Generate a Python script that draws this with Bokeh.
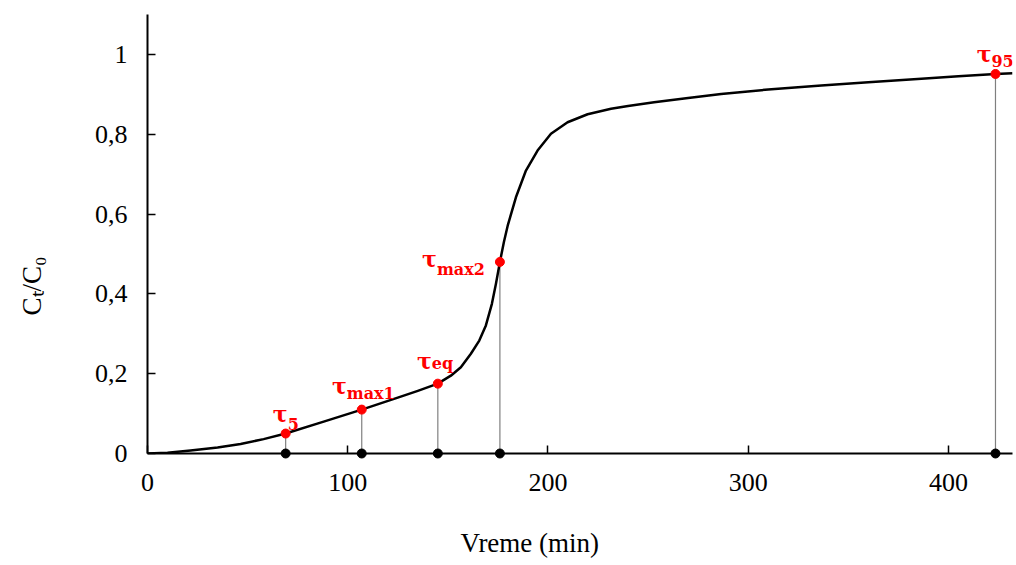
from bokeh.plotting import figure
from bokeh.models import Range1d, FixedTicker, Title, ColumnDataSource
from bokeh.core.properties import value
from bokeh.embed import file_html
from bokeh.resources import INLINE

# ---- data ----
curve_t = [0, 10, 21.5, 35, 46.5, 58, 69, 88, 107, 125, 135, 145, 151.5, 156.5, 161.5,
           165.7, 169, 172, 174, 176, 178, 180, 184, 189, 194.8, 201.5, 209.8, 219.8,
           231.5, 240, 253, 270, 286.5, 310, 336.5, 360, 386.5, 405, 423.5, 432]
curve_c = [0, 0.002, 0.0075, 0.015, 0.024, 0.036, 0.05, 0.08, 0.11, 0.14, 0.157, 0.175,
           0.195, 0.216, 0.250, 0.283, 0.321, 0.375, 0.425, 0.48, 0.53, 0.573, 0.642,
           0.709, 0.759, 0.801, 0.830, 0.850, 0.864, 0.871, 0.880, 0.891, 0.901, 0.912,
           0.922, 0.930, 0.939, 0.945, 0.951, 0.953]

tau_sub = ["5", "max1", "eq", "max2", "95"]
tau_t = [69, 107, 145, 176, 423.5]
tau_c = [0.05, 0.11, 0.175, 0.48, 0.951]

x_ticks = [0, 100, 200, 300, 400]
y_ticks = [0, 0.2, 0.4, 0.6, 0.8, 1.0]
y_tick_labels = ["0", "0,2", "0,4", "0,6", "0,8", "1"]

x_label = "Vreme (min)"
y_label = "Cₜ/C₀"

# ---- presentation (label placement in screen px) ----
tau_dx = [2, -15, -6, -63, -4]
tau_dy = [-20, -24, -23, -3, -20]
sub_dy = [-10, -16, -20, 8, -13]

FONT = "Liberation Serif"

p = figure(width=1016, height=565, output_backend="svg", toolbar_location=None,
           x_range=Range1d(0, 432), y_range=Range1d(0, 1.1),
           min_border_left=147, min_border_right=4, min_border_top=14, min_border_bottom=112)
p.outline_line_color = None
p.grid.visible = False
p.background_fill_color = "white"
p.border_fill_color = "white"

for ax in (p.xaxis[0], p.yaxis[0]):
    ax.axis_line_width = 2
    ax.axis_line_color = "black"
    ax.major_tick_in = 8
    ax.major_tick_out = 0
    ax.major_tick_line_width = 1.5
    ax.minor_tick_line_color = None
    ax.major_label_text_font = FONT
    ax.major_label_text_font_size = "26px"
    ax.major_label_text_color = "black"
    ax.major_label_standoff = 20

p.xaxis.ticker = FixedTicker(ticks=x_ticks)
p.yaxis.ticker = FixedTicker(ticks=y_ticks)
p.yaxis.major_label_overrides = {t: l for t, l in zip(y_ticks, y_tick_labels)}

src = ColumnDataSource(dict(t=tau_t, c=tau_c, zero=[0] * len(tau_t), sub=tau_sub,
                            tau=["τ"] * len(tau_t), dx=tau_dx, dy=tau_dy, sdy=sub_dy))

# dotted drop lines
p.segment(x0="t", y0="zero", x1="t", y1="c", source=src, line_color="black",
          line_width=1.2, line_dash="1 1")

# curve
p.line(curve_t, curve_c, line_color="black", line_width=2.5, line_join="round")

# markers
p.scatter(x="t", y="zero", source=src, size=9, color="black", level="overlay")
p.scatter(x="t", y="c", source=src, size=9, color="red")

# tau labels
p.text(x="t", y="c", text="tau", source=src, x_offset="dx", y_offset="dy",
       text_font=value("DejaVu Serif"), text_font_style="bold", text_font_size="22px",
       text_color="red", text_align="right", text_baseline="alphabetic")
p.text(x="t", y="c", text="sub", source=src, x_offset="dx", y_offset="sdy",
       text_font=value("DejaVu Serif"), text_font_style="bold", text_font_size="16px",
       text_color="red", text_align="left", text_baseline="alphabetic")

# axis titles (side titles; a blank line pushes each one outward like the reference)
p.add_layout(Title(text="\n" + x_label, align="left", offset=313, text_font=FONT,
                   text_font_size="27px", text_font_style="normal", text_color="black",
                   standoff=5), "below")
p.add_layout(Title(text=y_label + "\n", align="left", offset=138, text_font=FONT,
                   text_font_size="27px", text_font_style="normal", text_color="black",
                   standoff=29), "left")

open("out.html", "w").write(file_html(p, INLINE))
